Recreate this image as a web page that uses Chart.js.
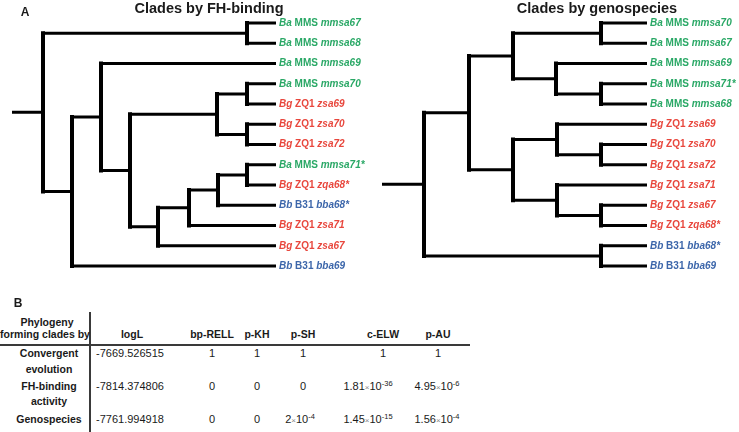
<!DOCTYPE html>
<html>
<head>
<meta charset="utf-8">
<script src="https://cdn.jsdelivr.net/npm/chart.js@4"></script>
<style>
  body { margin: 0; background: #fff; }
  #fig { position: relative; width: 739px; height: 432px; overflow: hidden; font-family: "Liberation Sans", Arial, sans-serif; color: #1a1a1a; }
  .t { position: absolute; white-space: nowrap; line-height: 1; transform: translate(-50%, -50%); }
  .l { transform: translate(0, -50%); }
  canvas { position: absolute; top: 0; }
  .rule { position: absolute; background: #3a3a3a; }
  sup { font-size: 7.5px; vertical-align: 0; position: relative; top: -4px; }
  .x { font-size: 8px; color: #888; }
</style>
</head>
<body>
<div id="fig">
  <canvas id="fhTree" width="370" height="290" style="left:0"></canvas>
  <canvas id="genoTree" width="369" height="290" style="left:370px"></canvas>
</div>
<script>
// leaf labels, top to bottom: species, strain, gene
const fhLeaves = ['Ba MMS mmsa67', 'Ba MMS mmsa68', 'Ba MMS mmsa69', 'Ba MMS mmsa70', 'Bg ZQ1 zsa69',
  'Bg ZQ1 zsa70', 'Bg ZQ1 zsa72', 'Ba MMS mmsa71*', 'Bg ZQ1 zqa68*', 'Bb B31 bba68*',
  'Bg ZQ1 zsa71', 'Bg ZQ1 zsa67', 'Bb B31 bba69'];
const genoLeaves = ['Ba MMS mmsa70', 'Ba MMS mmsa67', 'Ba MMS mmsa69', 'Ba MMS mmsa71*', 'Ba MMS mmsa68',
  'Bg ZQ1 zsa69', 'Bg ZQ1 zsa70', 'Bg ZQ1 zsa72', 'Bg ZQ1 zsa71', 'Bg ZQ1 zsa67',
  'Bg ZQ1 zqa68*', 'Bb B31 bba68*', 'Bb B31 bba69'];

// trees: [node depth, child, child]; a plain number is a leaf index
const fhTip = 264;
const fhTree = [31, [235, 0, 1], [60, [89, 2, [118, [205, [235, 3, 4], [235, 5, 6]],
  [146, [177, [206, [235, 7, 8], 9], 10], 11]]], 12]];
const genoTip = 265;
const genoTree = [42, [87, [131, [219, 0, 1], [174, 2, [219, 3, 4]]],
  [131, [175, 5, [219, 6, 7]], [175, 8, [219, 9, 10]]]], [219, 11, 12]];

const speciesColors = { Ba: '#2aa866', Bg: '#e8473d', Bb: '#3c66aa' };

// table B
const rowLabels = [['Convergent', 'evolution'], ['FH-binding', 'activity'], ['Genospecies']];
const colHeaders = ['logL', 'bp-RELL', 'p-KH', 'p-SH', 'c-ELW', 'p-AU'];
const logL = ['-7669.526515', '-7814.374806', '-7761.994918'];
const bpRELL = ['1', '0', '0'];
const pKH = ['1', '0', '0'];
const pSH = ['1', '0', '2×10^-4'];
const cELW = ['1', '1.81×10^-36', '1.45×10^-15'];
const pAU = ['1', '4.95×10^-6', '1.56×10^-4'];

function branches(tree, tip) {
  const hor = [], ver = [];
  function walk(node) {
    if (typeof node === 'number') return { y: node, d: tip };
    const [d, ...kids] = node;
    const ks = kids.map(walk);
    const y0 = ks[0].y, y1 = ks[ks.length - 1].y;
    ver.push({ x: d, y: y0 }, { x: d, y: y1 }, { x: d, y: null });
    ks.forEach(k => hor.push({ x: d, y: k.y }, { x: k.d, y: k.y }, { x: d, y: null }));
    return { y: (y0 + y1) / 2, d };
  }
  const root = walk(tree);
  hor.push({ x: 0, y: root.y }, { x: root.d, y: root.y });
  return { hor, ver };
}

const leafLabels = {
  id: 'leafLabels',
  afterDatasetsDraw(chart, args, opts) {
    const { ctx, scales: { x, y } } = chart;
    ctx.save();
    ctx.textBaseline = 'middle';
    opts.leaves.forEach((s, i) => {
      const [sp, strain, gene] = s.split(' ');
      let px = x.getPixelForValue(opts.tip) + 3;
      const py = y.getPixelForValue(i);
      ctx.fillStyle = speciesColors[sp];
      [[sp, 'italic bold'], [strain, 'bold'], [gene, 'italic bold']].forEach(([t, f]) => {
        ctx.font = f + ' 10px "Liberation Sans", Arial, sans-serif';
        ctx.fillText(t, px, py);
        px += ctx.measureText(t + ' ').width;
      });
    });
    ctx.restore();
  }
};

function drawTree(id, tree, tip, leaves, padRight) {
  const b = branches(tree, tip);
  new Chart(document.getElementById(id), {
    type: 'line',
    data: {
      datasets: [
        { data: b.hor, borderColor: '#000', borderWidth: 3, borderCapStyle: 'butt', pointRadius: 0, clip: false },
        { data: b.ver, borderColor: '#000', borderWidth: 4, borderCapStyle: 'square', pointRadius: 0, clip: false }
      ]
    },
    options: {
      responsive: false,
      animation: false,
      layout: { padding: { left: 12, right: padRight, top: 23, bottom: 24 } },
      scales: {
        x: { type: 'linear', display: false, min: 0, max: tip },
        y: { type: 'linear', display: false, min: 0, max: leaves.length - 1, reverse: true }
      },
      plugins: { legend: { display: false }, tooltip: { enabled: false }, leafLabels: { leaves, tip } }
    },
    plugins: [leafLabels]
  });
}

drawTree('fhTree', fhTree, fhTip, fhLeaves, 94);
drawTree('genoTree', genoTree, genoTip, genoLeaves, 92);

/* ---------- text & table ---------- */
const fig = document.getElementById('fig');
function put(html, x, y, font, left) {
  const el = document.createElement('div');
  el.className = left ? 't l' : 't';
  el.style.left = x + 'px';
  el.style.top = y + 'px';
  el.style.font = font;
  el.innerHTML = html;
  fig.appendChild(el);
}
function rule(x, y, w, h) {
  const el = document.createElement('div');
  el.className = 'rule';
  Object.assign(el.style, { left: x + 'px', top: y + 'px', width: w + 'px', height: h + 'px' });
  fig.appendChild(el);
}
const sci = s => s.includes('^')
  ? s.replace('×', '<span class="x">×</span>').replace(/\^(.*)$/, '<sup>$1</sup>')
  : s;

const bold = (s) => 'bold ' + s + 'px "Liberation Sans", Arial, sans-serif';
const reg = (s) => s + 'px "Liberation Sans", Arial, sans-serif';

put('A', 25, 12, bold(12));
put('B', 18, 303, bold(12));
put('Clades by FH-binding', 209, 7.5, bold(14.5));
put('Clades by genospecies', 597, 7.5, bold(14.5));

rule(89, 312, 2, 120);
rule(0, 344, 470, 2);

put('Phylogeny', 47, 322, bold(10.5));
put('forming clades by', 45, 334, bold(10.5));

const colX = [130, 212, 257, 303, 383, 438];
const sciShift = [0, 0, 0, -3, -15, -1];
const rowY = [[353, 369], [386, 401], [419]];
colHeaders.forEach((h, j) => put(h, colX[j] + (j === 0 ? 2 : 0), 334, bold(10.5)));

const cols = [logL, bpRELL, pKH, pSH, cELW, pAU];
rowLabels.forEach((lines, i) => {
  lines.forEach((t, k) => put(t, 49, rowY[i][k], bold(10.5)));
  cols.forEach((col, j) => {
    const v = col[i];
    const shift = v.includes('^') ? sciShift[j] : 0;
    put(sci(v), colX[j] + shift, rowY[i][0], reg(11));
  });
});
</script>
</body>
</html>
